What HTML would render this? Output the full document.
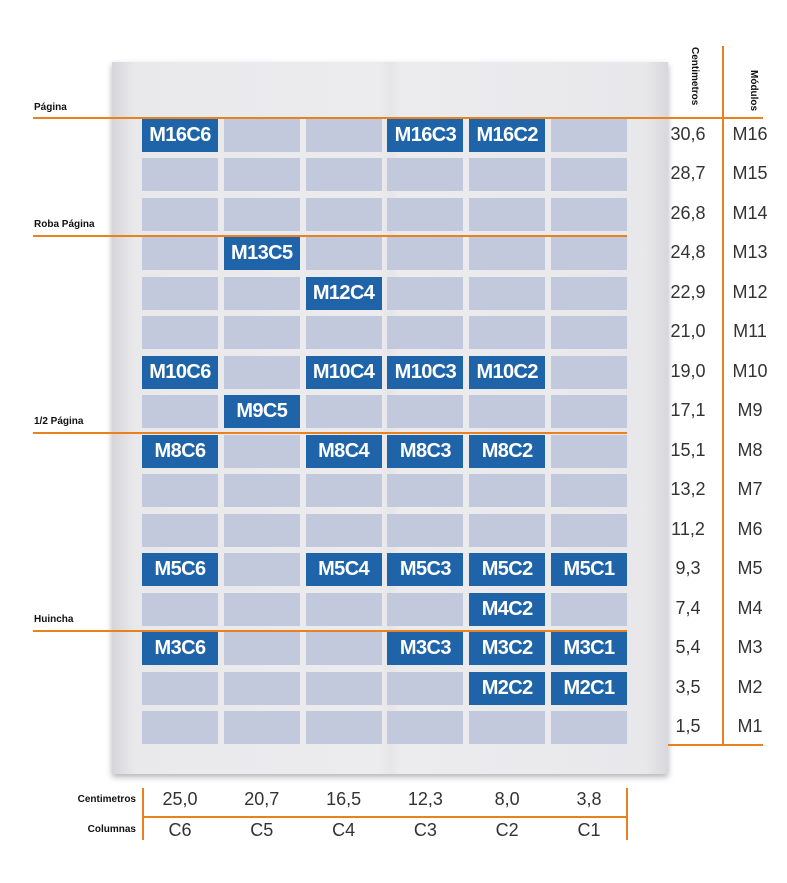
<!DOCTYPE html><html><head><meta charset="utf-8"><style>
body{margin:0;width:787px;height:883px;background:#fff;position:relative;overflow:hidden;font-family:"Liberation Sans",sans-serif}
.a{position:absolute}
.paper{left:112px;top:62px;width:556px;height:712px;background:linear-gradient(90deg,#d6d6da 0,#e9e9ec 4%,#ececef 48%,#e6e6e9 50%,#ececef 52%,#e8e8eb 96%,#d8d8dc 100%);box-shadow:0 3px 6px rgba(0,0,0,.3)}
.c{position:absolute;width:76px;height:33px;background:#c3c9dc;color:#fff;font-weight:bold;font-size:20px;text-align:center;line-height:33px;letter-spacing:-0.6px}
.b{background:#1f64a8}
.o{position:absolute;background:#e8821e}
.l{position:absolute;font-size:10px;font-weight:bold;color:#111}
.v{position:absolute;font-size:18px;color:#333;text-align:center;width:60px}
</style></head><body>
<div class="a paper"></div>
<div id="g"></div>
<div class="o" style="left:33px;top:117px;width:730px;height:2px"></div>
<div class="o" style="left:33px;top:235px;width:594px;height:2px"></div>
<div class="o" style="left:33px;top:432px;width:594px;height:2px"></div>
<div class="o" style="left:33px;top:630px;width:594px;height:2px"></div>
<div class="o" style="left:722px;top:46px;width:2px;height:700px"></div>
<div class="o" style="left:668px;top:744px;width:95px;height:2px"></div>
<div class="l" style="left:34px;top:102px">Página</div>
<div class="l" style="left:34px;top:219px">Roba Página</div>
<div class="l" style="left:34px;top:416px">1/2 Página</div>
<div class="l" style="left:34px;top:614px">Huincha</div>
<div class="l" style="transform:rotate(90deg);transform-origin:left top;left:700px;top:47px">Centimetros</div>
<div class="l" style="transform:rotate(90deg);transform-origin:left top;left:759px;top:70px">Módulos</div>
<div class="o" style="left:142px;top:788px;width:2px;height:52px"></div>
<div class="o" style="left:626px;top:788px;width:2px;height:52px"></div>
<div class="o" style="left:142px;top:816px;width:486px;height:2px"></div>
<div class="l" style="left:46px;top:794px;width:90px;text-align:right">Centimetros</div>
<div class="l" style="left:46px;top:824px;width:90px;text-align:right">Columnas</div>
<div id="r"></div>
<script>
var g='',blue={16:[0,3,4],13:[1],12:[2],10:[0,2,3,4],9:[1],8:[0,2,3,4],5:[0,2,3,4,5],4:[4],3:[0,3,4,5],2:[4,5]};
var cm=['30,6','28,7','26,8','24,8','22,9','21,0','19,0','17,1','15,1','13,2','11,2','9,3','7,4','5,4','3,5','1,5'];
for(var r=0;r<16;r++){var m=16-r,y=119+r*39.47;for(var c=0;c<6;c++){var x=142+c*81.8;var isb=blue[m]&&blue[m].indexOf(c)>=0;
g+='<div class="c'+(isb?' b':'')+'" style="left:'+x+'px;top:'+y+'px">'+(isb?'M'+m+'C'+(6-c):'')+'</div>';}
g+='<div class="v" style="left:658px;top:'+(y+5)+'px">'+cm[r]+'</div><div class="v" style="left:720px;top:'+(y+5)+'px">M'+m+'</div>';}
var bc=['25,0','20,7','16,5','12,3','8,0','3,8'];
for(var c=0;c<6;c++){var x=150+c*81.8;g+='<div class="v" style="left:'+x+'px;top:789px">'+bc[c]+'</div><div class="v" style="left:'+x+'px;top:820px">C'+(6-c)+'</div>';}
document.getElementById('g').innerHTML=g;
</script>
</body></html>
